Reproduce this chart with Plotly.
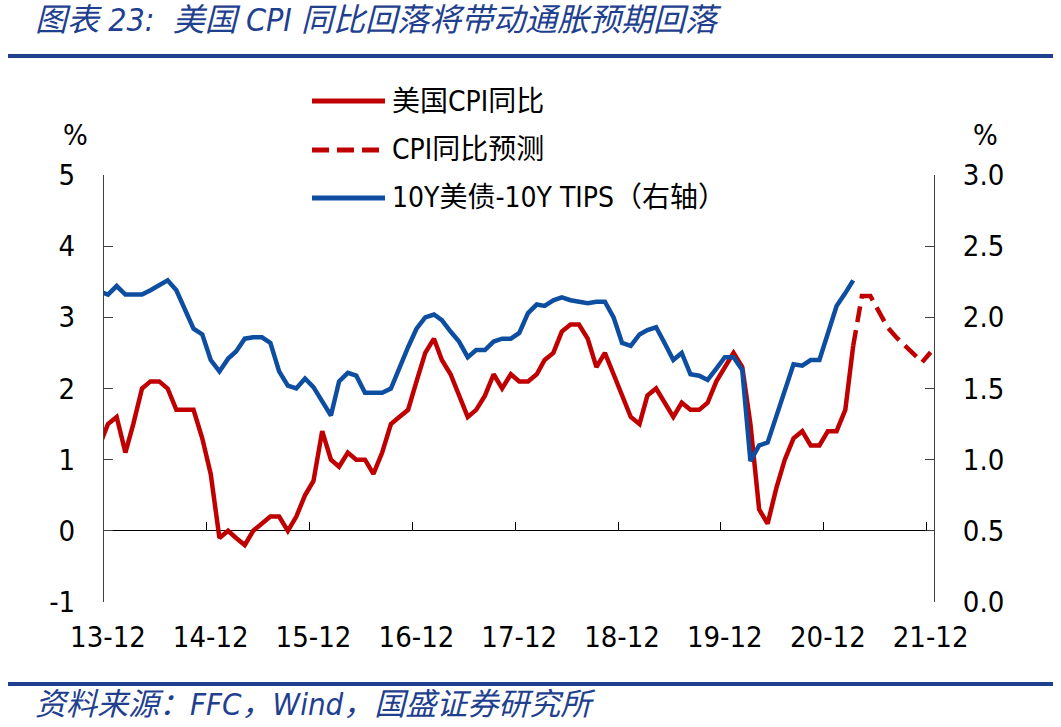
import pandas as pd
import plotly.graph_objects as go

# ---------------- data ----------------
months = [str(p) for p in pd.period_range("2013-11", "2021-03", freq="M")]

cpi_yoy = [1.2, 1.5,
           1.6, 1.1, 1.5, 2.0, 2.1, 2.1, 2.0, 1.7, 1.7, 1.7, 1.3, 0.8,
           -0.1, 0.0, -0.1, -0.2, 0.0, 0.1, 0.2, 0.2, 0.0, 0.2, 0.5, 0.7,
           1.4, 1.0, 0.9, 1.1, 1.0, 1.0, 0.8, 1.1, 1.5, 1.6, 1.7, 2.1,
           2.5, 2.7, 2.4, 2.2, 1.9, 1.6, 1.7, 1.9, 2.2, 2.0, 2.2, 2.1,
           2.1, 2.2, 2.4, 2.5, 2.8, 2.9, 2.9, 2.7, 2.3, 2.5, 2.2, 1.9,
           1.6, 1.5, 1.9, 2.0, 1.8, 1.6, 1.8, 1.7, 1.7, 1.8, 2.1, 2.3,
           2.5, 2.3, 1.5, 0.3, 0.1, 0.6, 1.0, 1.3, 1.4, 1.2, 1.2, 1.4,
           1.4, 1.7, 2.6]

breakeven_10y = [2.18, 2.16,
                 2.22, 2.16, 2.16, 2.16, 2.19, 2.23, 2.26, 2.19, 2.06, 1.92, 1.88, 1.70,
                 1.62, 1.71, 1.76, 1.85, 1.86, 1.86, 1.82, 1.62, 1.52, 1.50, 1.57, 1.51,
                 1.41, 1.31, 1.55, 1.61, 1.59, 1.47, 1.47, 1.47, 1.50, 1.65, 1.79, 1.92,
                 2.00, 2.02, 1.98, 1.90, 1.83, 1.72, 1.77, 1.77, 1.83, 1.85, 1.85, 1.89,
                 2.03, 2.09, 2.08, 2.12, 2.14, 2.12, 2.11, 2.10, 2.11, 2.11, 2.00, 1.82,
                 1.80, 1.88, 1.91, 1.93, 1.82, 1.70, 1.75, 1.60, 1.59, 1.56, 1.64, 1.72,
                 1.72, 1.63, 0.99, 1.10, 1.12, 1.30, 1.49, 1.67, 1.66, 1.70, 1.70, 1.89,
                 2.08, 2.17, 2.26]

forecast_months = ["2021-03", "2021-04", "2021-05", "2021-06", "2021-07",
                   "2021-08", "2021-09", "2021-10", "2021-11", "2021-12"]
cpi_forecast = [2.6, 3.3, 3.3, 3.07, 2.86, 2.72, 2.6, 2.49, 2.37, 2.51]

tick_years = list(range(2013, 2022))
tick_labels = ["13-12", "14-12", "15-12", "16-12", "17-12", "18-12", "19-12", "20-12", "21-12"]
left_ticks = [-1, 0, 1, 2, 3, 4, 5]
left_tick_labels = ["-1", "0", "1", "2", "3", "4", "5"]
right_ticks = [0, 0.5, 1, 1.5, 2, 2.5, 3]

series_names = ["美国CPI同比", "CPI同比预测", "10Y美债-10Y TIPS（右轴）"]

# ---------------- styling ----------------
RED = "#C00000"
BLUE = "#0D4EA1"
TITLE_BLUE = "#1F3F8F"
FONT = "DejaVu Sans Condensed, Tahoma, DejaVu Sans, Noto Sans CJK SC, sans-serif"
W, H = 1061, 727
PL, PR, PT, PB = 104, 934, 175, 602


def px(xp):
    return (xp - PL) / (PR - PL)


def py(yp):
    return (PB - yp) / (PB - PT)


def mid(m):
    return pd.Timestamp(m + "-15")


x_main = [mid(m) for m in months]
x_fc = [mid(m) for m in forecast_months]
x_range = ["2013-12-01", "2021-12-27"]

fig = go.Figure()
fig.add_trace(go.Scatter(x=x_main, y=cpi_yoy, mode="lines", name=series_names[0],
                         line=dict(color=RED, width=4.5), showlegend=False))
fig.add_trace(go.Scatter(x=x_fc, y=cpi_forecast, mode="lines", name=series_names[1],
                         line=dict(color=RED, width=4.5, dash="16px,8px"), showlegend=False))
fig.add_trace(go.Scatter(x=x_main, y=breakeven_10y, mode="lines", name=series_names[2],
                         yaxis="y2", line=dict(color=BLUE, width=4.5), showlegend=False))
# helper trace so the zero-line tick axis is rendered
fig.add_trace(go.Scatter(x=[x_main[1]], y=[None], xaxis="x2", mode="lines",
                         showlegend=False, hoverinfo="skip"))

axis_font = dict(family=FONT, size=29, color="#000000")

fig.update_layout(
    width=W, height=H,
    margin=dict(l=PL, r=W - PR, t=PT, b=H - PB),
    paper_bgcolor="white", plot_bgcolor="white",
    showlegend=False,
    xaxis=dict(type="date", range=x_range, showgrid=False, zeroline=False, showline=False,
               tickmode="array", tickvals=[pd.Timestamp(f"{y}-12-15") for y in tick_years],
               ticktext=tick_labels, ticks="", ticklabelstandoff=15, tickfont=axis_font),
    xaxis2=dict(type="date", range=x_range, overlaying="x", anchor="free", position=1 / 6,
                side="bottom", showgrid=False, zeroline=False, showline=False,
                tickmode="array", tickvals=[pd.Timestamp(f"{y}-12-01") for y in tick_years],
                ticks="inside", ticklen=9, tickwidth=1, tickcolor="#000000",
                showticklabels=False),
    yaxis=dict(range=[-1, 5], tickmode="array", tickvals=left_ticks, ticktext=left_tick_labels,
               ticks="inside", ticklen=9, tickwidth=1, tickcolor="#404040",
               showline=True, linecolor="#404040", linewidth=1, showgrid=False,
               zeroline=True, zerolinecolor="#000000", zerolinewidth=1,
               ticklabelstandoff=22, tickfont=axis_font),
    yaxis2=dict(range=[0, 3], overlaying="y", side="right", tickmode="array",
                tickvals=right_ticks, tickformat=".1f",
                ticks="inside", ticklen=9, tickwidth=1, tickcolor="#404040",
                showline=True, linecolor="#404040", linewidth=1, showgrid=False,
                zeroline=False, ticklabelstandoff=22, tickfont=axis_font),
)

ann = []
ann.append(dict(x=px(75), y=py(135), xref="paper", yref="paper", text="%", showarrow=False,
                font=axis_font, xanchor="center", yanchor="middle"))
ann.append(dict(x=px(985), y=py(135), xref="paper", yref="paper", text="%", showarrow=False,
                font=axis_font, xanchor="center", yanchor="middle"))
ann.append(dict(x=px(33), y=py(20), xref="paper", yref="paper",
                text="<i>图表 23:\u00a0\u00a0美国 CPI 同比回落将带动通胀预期回落</i>",
                showarrow=False, xanchor="left", yanchor="middle",
                font=dict(family=FONT, size=32, color=TITLE_BLUE)))
ann.append(dict(x=px(33), y=py(704), xref="paper", yref="paper",
                text="<i>资料来源：FFC，Wind，国盛证券研究所</i>",
                showarrow=False, xanchor="left", yanchor="middle",
                font=dict(family=FONT, size=31, color=TITLE_BLUE)))

legend_rows = [101, 150, 198]
legend_styles = [dict(color=RED, width=5), dict(color=RED, width=5, dash="17px,8px"),
                 dict(color=BLUE, width=5)]
shapes = []
for name, yrow, st in zip(series_names, legend_rows, legend_styles):
    shapes.append(dict(type="line", xref="paper", yref="paper", x0=px(312), x1=px(385),
                       y0=py(yrow), y1=py(yrow), line=st))
    ann.append(dict(x=px(390), y=py(yrow), xref="paper", yref="paper", text=name,
                    showarrow=False, xanchor="left", yanchor="middle",
                    font=dict(family=FONT, size=28, color="#000000")))

for yrule in (56, 684):
    shapes.append(dict(type="line", xref="paper", yref="paper", x0=px(8), x1=px(1053),
                       y0=py(yrule), y1=py(yrule), line=dict(color=TITLE_BLUE, width=4)))

fig.update_layout(annotations=ann, shapes=shapes)

fig.write_html("out.html", config={"displayModeBar": False},
               post_script="document.body.style.margin='0';")
